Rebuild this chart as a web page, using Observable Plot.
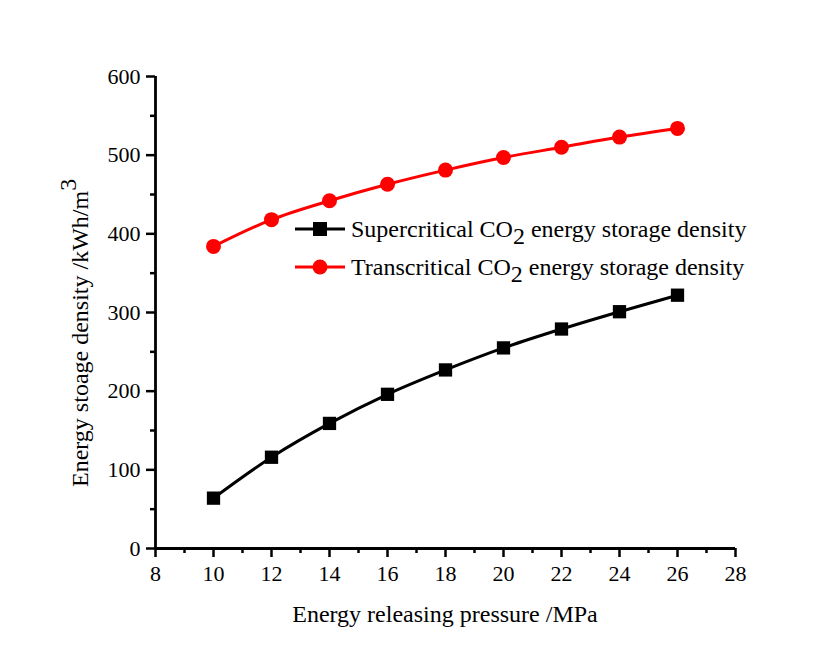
<!DOCTYPE html>
<html>
<head>
<meta charset="utf-8">
<script src="https://cdn.jsdelivr.net/npm/d3@7"></script>
<script src="https://cdn.jsdelivr.net/npm/@observablehq/plot@0.6"></script>
<style>
  html, body { margin: 0; padding: 0; background: #fff; }
  #chart svg { display: block; }
  #chart g[aria-label$="tick"] { stroke-width: 2.5px; }
</style>
</head>
<body>
<div id="chart"></div>
<script>
// Energy releasing pressure (MPa)
const pressure = [10, 12, 14, 16, 18, 20, 22, 24, 26];
// Energy storage density (kWh/m^3)
const supercritical = [64, 116, 159, 196, 227, 255, 279, 301, 322];
const transcritical = [384, 418, 442, 463, 481, 497, 510, 523, 534];

const xMajor = [8, 10, 12, 14, 16, 18, 20, 22, 24, 26, 28];
const xMinor = [9, 11, 13, 15, 17, 19, 21, 23, 25, 27];
const yMajor = [0, 100, 200, 300, 400, 500, 600];
const yMinor = [50, 150, 250, 350, 450, 550];

const seriesNames = ["Supercritical", "Transcritical"];
const seriesColors = ["#000000", "#ff0000"];

const superData = pressure.map((p, i) => ({p, v: supercritical[i]}));
const transData = pressure.map((p, i) => ({p, v: transcritical[i]}));

const font = "'Liberation Serif', 'Times New Roman', serif";

const chart = Plot.plot({
  width: 840,
  height: 650,
  marginLeft: 155,
  marginRight: 105,
  marginTop: 76,
  marginBottom: 102,
  style: {fontFamily: font, fontSize: "22px", color: "#000", background: "#fff"},
  x: {domain: [8, 28]},
  y: {domain: [0, 600]},
  marks: [
    Plot.axisX(xMajor, {tickSize: 9, tickPadding: 8, label: null, fontSize: 22}),
    Plot.axisX(xMinor, {tickSize: 5, text: null, label: null}),
    Plot.axisY(yMajor, {tickSize: 9, tickPadding: 6, label: null, fontSize: 22}),
    Plot.axisY(yMinor, {tickSize: 5, text: null, label: null}),
    Plot.ruleX([8], {strokeWidth: 2.8}),
    Plot.ruleY([0], {strokeWidth: 2.8}),
    Plot.line(superData, {x: "p", y: "v", stroke: seriesColors[0], strokeWidth: 3, curve: "catmull-rom"}),
    Plot.dot(superData, {x: "p", y: "v", symbol: "square", r: 7.5, fill: seriesColors[0], stroke: "none"}),
    Plot.line(transData, {x: "p", y: "v", stroke: seriesColors[1], strokeWidth: 3, curve: "catmull-rom"}),
    Plot.dot(transData, {x: "p", y: "v", symbol: "circle", r: 7.5, fill: seriesColors[1], stroke: "none"})
  ]
});

document.getElementById("chart").appendChild(chart);

const svg = d3.select(chart);

// Axis titles
svg.append("text")
  .attr("x", 445).attr("y", 622)
  .attr("text-anchor", "middle")
  .style("font-family", font).style("font-size", "24px").attr("fill", "#000")
  .text("Energy releasing pressure /MPa");

const yTitle = svg.append("text")
  .attr("transform", "translate(88,487) rotate(-90)")
  .attr("text-anchor", "start")
  .style("font-family", font).style("font-size", "24px").attr("fill", "#000");
yTitle.append("tspan").text("Energy stoage density /kWh/m");
yTitle.append("tspan").attr("dy", -12).text("3");

// Legend
const legendRows = [
  {name: seriesNames[0], color: seriesColors[0], symbol: "square", y: 229},
  {name: seriesNames[1], color: seriesColors[1], symbol: "circle", y: 267}
];
const legend = svg.append("g");
legendRows.forEach(row => {
  legend.append("line")
    .attr("x1", 295).attr("x2", 345).attr("y1", row.y).attr("y2", row.y)
    .attr("stroke", row.color).attr("stroke-width", 3);
  if (row.symbol === "square") {
    legend.append("rect").attr("x", 313).attr("y", row.y - 7).attr("width", 14).attr("height", 14).attr("fill", row.color);
  } else {
    legend.append("circle").attr("cx", 320).attr("cy", row.y).attr("r", 7.5).attr("fill", row.color);
  }
  const t = legend.append("text")
    .attr("x", 351).attr("y", row.y + 8)
    .attr("text-anchor", "start")
    .style("font-family", font).style("font-size", "24px").attr("fill", "#000");
  t.append("tspan").text(row.name + " CO");
  t.append("tspan").attr("dy", 7).text("2");
  t.append("tspan").attr("dy", -7).text(" energy storage density");
});
</script>
</body>
</html>
